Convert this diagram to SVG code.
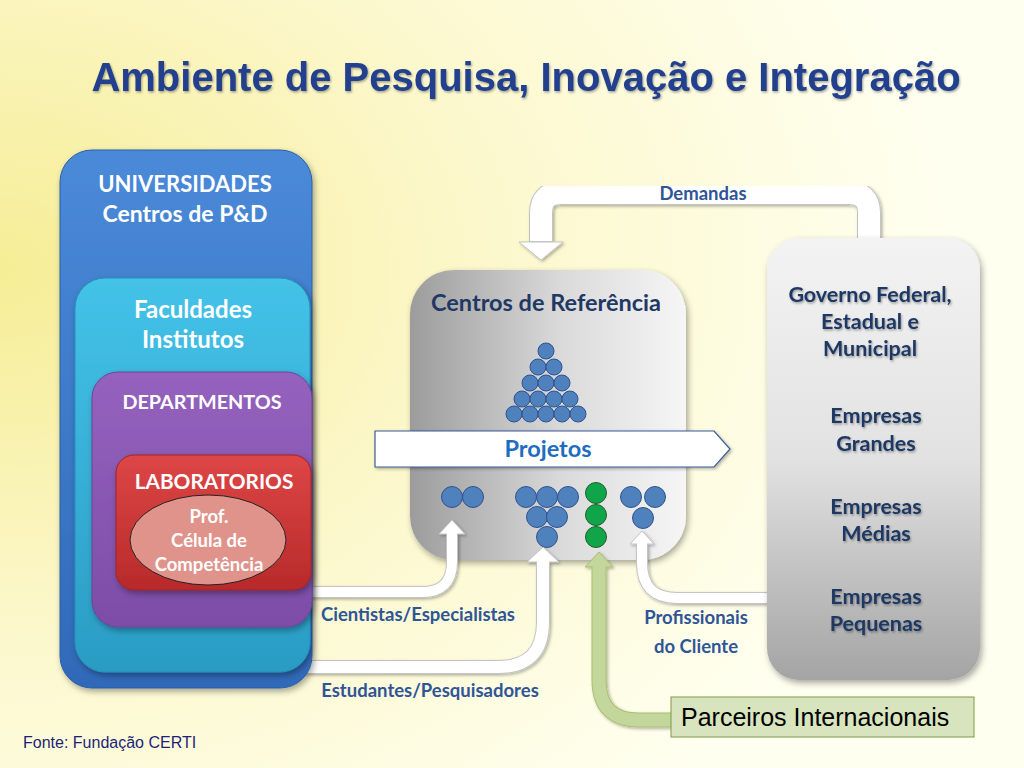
<svg xmlns="http://www.w3.org/2000/svg" width="1024" height="768" viewBox="0 0 1024 768">
<defs>
<radialGradient id="bg" cx="0" cy="0.35" r="1.1">
<stop offset="0" stop-color="#F6ED96"/>
<stop offset="0.45" stop-color="#FCF8CE"/>
<stop offset="0.85" stop-color="#FFFFF0"/>
</radialGradient>
<linearGradient id="gCentros" x1="0" y1="0" x2="1" y2="0">
<stop offset="0" stop-color="#9C9C9C"/>
<stop offset="0.55" stop-color="#DADADA"/>
<stop offset="1" stop-color="#F6F6F6"/>
</linearGradient>
<linearGradient id="gRight" x1="0" y1="0" x2="0" y2="1">
<stop offset="0" stop-color="#F3F3F3"/>
<stop offset="0.5" stop-color="#E2E2E2"/>
<stop offset="1" stop-color="#A4A4A4"/>
</linearGradient>
<linearGradient id="gBlue" x1="0" y1="0" x2="0" y2="1">
<stop offset="0" stop-color="#4A8AD8"/>
<stop offset="1" stop-color="#2F6AB8"/>
</linearGradient>
<linearGradient id="gCyan" x1="0" y1="0" x2="0" y2="1">
<stop offset="0" stop-color="#44C2E8"/>
<stop offset="1" stop-color="#2A9CC4"/>
</linearGradient>
<linearGradient id="gPurple" x1="0" y1="0" x2="0" y2="1">
<stop offset="0" stop-color="#9562BE"/>
<stop offset="1" stop-color="#7C4DA6"/>
</linearGradient>
<linearGradient id="gRed" x1="0" y1="0" x2="0" y2="1">
<stop offset="0" stop-color="#DD4646"/>
<stop offset="1" stop-color="#B82A2A"/>
</linearGradient>
<filter id="sh" x="-10%" y="-10%" width="130%" height="130%">
<feDropShadow dx="2" dy="3" stdDeviation="3" flood-color="#000" flood-opacity="0.35"/>
</filter>
<filter id="shs" x="-10%" y="-10%" width="130%" height="130%">
<feDropShadow dx="1.5" dy="1.5" stdDeviation="1.5" flood-color="#000" flood-opacity="0.3"/>
</filter>
<filter id="tsh" x="-10%" y="-20%" width="130%" height="150%">
<feDropShadow dx="1" dy="1.5" stdDeviation="1" flood-color="#000" flood-opacity="0.35"/>
</filter>
</defs>
<style>
.t{font-family:Lato,"Liberation Sans",sans-serif;font-weight:bold;text-anchor:middle}
.w{fill:#FFFFFF}
.db{fill:#1F3864}
.lb{fill:#2F5597;font-size:18.5px}
.bc{fill:#4F81BD;stroke:#2F528F;stroke-width:1}
.gc{fill:#10A548;stroke:#1E5E2E;stroke-width:1}
.ae{fill:none;stroke:#C4C4C4}
.aw{fill:none;stroke:#FFFFFF}
.ah{fill:#FFFFFF;stroke:#C4C4C4;stroke-width:1}
</style>
<rect width="1024" height="768" fill="url(#bg)"/>
<text x="526" y="91" font-family="'Liberation Sans',Arial,sans-serif" font-weight="bold" font-size="40" fill="#213F8D" text-anchor="middle" filter="url(#tsh)">Ambiente de Pesquisa, Inovação e Integração</text>

<g id="centros">
<rect x="410" y="270" width="276" height="290" rx="44" fill="url(#gCentros)" filter="url(#sh)"/>
<text class="t db" x="546" y="311" font-size="23.5">Centros de Referência</text>
<g id="piramide">
<circle class="bc" cx="546" cy="351" r="8"/>
<circle class="bc" cx="538" cy="367" r="8"/><circle class="bc" cx="554" cy="367" r="8"/>
<circle class="bc" cx="530" cy="383" r="8"/><circle class="bc" cx="546" cy="383" r="8"/><circle class="bc" cx="562" cy="383" r="8"/>
<circle class="bc" cx="522" cy="399" r="8"/><circle class="bc" cx="538" cy="399" r="8"/><circle class="bc" cx="554" cy="399" r="8"/><circle class="bc" cx="570" cy="399" r="8"/>
<circle class="bc" cx="514" cy="414" r="8"/><circle class="bc" cx="530" cy="414" r="8"/><circle class="bc" cx="546" cy="414" r="8"/><circle class="bc" cx="562" cy="414" r="8"/><circle class="bc" cx="578" cy="414" r="8"/>
</g>
<g id="projetos">
<polygon points="375,431 714,431 730,449 714,467 375,467" fill="#FFFFFF" stroke="#3B5A98" stroke-width="1.2" filter="url(#shs)"/>
<text class="t" x="548" y="457" font-size="23.5" fill="#1F6DC0">Projetos</text>
</g>
<g id="equipes">
<circle class="bc" cx="452" cy="497" r="10.5"/><circle class="bc" cx="473" cy="497" r="10.5"/>
<circle class="bc" cx="526" cy="497" r="10.5"/><circle class="bc" cx="547" cy="497" r="10.5"/><circle class="bc" cx="568" cy="497" r="10.5"/>
<circle class="bc" cx="537" cy="517" r="10.5"/><circle class="bc" cx="557" cy="517" r="10.5"/>
<circle class="bc" cx="547" cy="537" r="10.5"/>
<circle class="gc" cx="596" cy="493" r="10.5"/><circle class="gc" cx="596" cy="515" r="10.5"/><circle class="gc" cx="596" cy="537" r="10.5"/>
<circle class="bc" cx="631" cy="497" r="10.5"/><circle class="bc" cx="655" cy="497" r="10.5"/><circle class="bc" cx="643" cy="518" r="10.5"/>
</g>
</g>

<g id="connectors">
<g filter="url(#shs)">
<path class="ae" d="M300,592 H422 Q452,592 452,562 V534" stroke-width="12"/>
<polygon class="ah" points="439,534 452,520 465,534"/>
<path class="aw" d="M300,592 H422 Q452,592 452,562 V533" stroke-width="10"/>
</g>
<g filter="url(#shs)">
<path class="ae" d="M300,667 H498 Q543,667 543,622 V562" stroke-width="14"/>
<polygon class="ah" points="527,562 543,547 559,562"/>
<path class="aw" d="M300,667 H498 Q543,667 543,622 V561" stroke-width="12"/>
</g>
<g filter="url(#shs)">
<path class="ae" d="M775,598 H677 Q642,598 642,563 V544" stroke-width="12"/>
<polygon class="ah" points="630,544 642,531 654,544"/>
<path class="aw" d="M775,598 H677 Q642,598 642,563 V543" stroke-width="10"/>
</g>
<g filter="url(#shs)">
<path d="M675,720 H639 Q599,720 599,680 V567" fill="none" stroke="#A9C071" stroke-width="15"/>
<polygon points="585,567 599,552 613,567" fill="#C3D69B" stroke="#A9C071" stroke-width="1"/>
<path d="M675,720 H639 Q599,720 599,680 V566" fill="none" stroke="#C3D69B" stroke-width="13"/>
</g>
<g filter="url(#shs)">
<path class="ae" d="M869,250 V213 Q869,193 849,193 H561 Q541,193 541,213 V242" stroke-width="24"/>
<polygon class="ah" points="519,242 541,260 563,242"/>
<path class="aw" d="M869,250 V213 Q869,193 849,193 H561 Q541,193 541,213 V241" stroke-width="22"/>
</g>
<text class="t lb" x="703" y="200" style="font-size:18.5px">Demandas</text>
<text class="t lb" x="418" y="621">Cientistas/Especialistas</text>
<text class="t lb" x="430" y="697">Estudantes/Pesquisadores</text>
<text class="t lb" x="696" y="624">Profissionais</text>
<text class="t lb" x="696" y="653">do Cliente</text>
</g>

<g id="universidades">
<rect x="60" y="150" width="252" height="538" rx="32" fill="url(#gBlue)" stroke="#2A5EA8" stroke-width="1" filter="url(#sh)"/>
<text class="t w" x="185" y="192" font-size="22">UNIVERSIDADES</text>
<text class="t w" x="185" y="222" font-size="23">Centros de P&amp;D</text>
</g>
<g id="faculdades">
<rect x="75" y="278" width="235" height="394" rx="30" fill="url(#gCyan)" stroke="#2690B8" stroke-width="1" filter="url(#sh)"/>
<text class="t w" x="193" y="318" font-size="24">Faculdades</text>
<text class="t w" x="193" y="348" font-size="24">Institutos</text>
</g>
<g id="departamentos">
<rect x="92" y="372" width="220" height="255" rx="26" fill="url(#gPurple)" stroke="#6E4398" stroke-width="1" filter="url(#sh)"/>
<text class="t w" x="202" y="409" font-size="19.8">DEPARTMENTOS</text>
</g>
<g id="laboratorios">
<rect x="116" y="455" width="195" height="135" rx="18" fill="url(#gRed)" stroke="#A02424" stroke-width="1" filter="url(#sh)"/>
<text class="t w" x="214" y="489" font-size="20.8">LABORATORIOS</text>
</g>
<g id="celula">
<ellipse cx="208" cy="540" rx="78" ry="45" fill="#DF938B" stroke="#222" stroke-width="1"/>
<text class="t w" x="209" y="523" font-size="18.5">Prof.</text>
<text class="t w" x="209" y="547" font-size="18.5">Célula de</text>
<text class="t w" x="209" y="571" font-size="18.5">Competência</text>
</g>

<g id="clientes">
<rect x="767" y="238" width="213" height="442" rx="32" fill="url(#gRight)" filter="url(#sh)"/>
<g filter="url(#tsh)">
<text class="t db" x="870" y="302" font-size="21.5">Governo Federal,</text>
<text class="t db" x="870" y="329" font-size="21.5">Estadual e</text>
<text class="t db" x="870" y="356" font-size="21.5">Municipal</text>
<text class="t db" x="876" y="423" font-size="21.5">Empresas</text>
<text class="t db" x="876" y="451" font-size="21.5">Grandes</text>
<text class="t db" x="876" y="514" font-size="21.5">Empresas</text>
<text class="t db" x="876" y="541" font-size="21.5">Médias</text>
<text class="t db" x="876" y="604" font-size="21.5">Empresas</text>
<text class="t db" x="876" y="631" font-size="21.5">Pequenas</text>
</g>
</g>

<g id="parceiros">
<rect x="671" y="697" width="303" height="40" fill="#D7E4BD" stroke="#7E9A48" stroke-width="1"/>
<text x="681" y="726" font-family="'Liberation Sans',Arial,sans-serif" font-size="25" fill="#000">Parceiros Internacionais</text>
</g>

<text x="23" y="748" font-family="'Liberation Sans',Arial,sans-serif" font-size="16" fill="#1F1F78">Fonte: Fundação CERTI</text>
</svg>
